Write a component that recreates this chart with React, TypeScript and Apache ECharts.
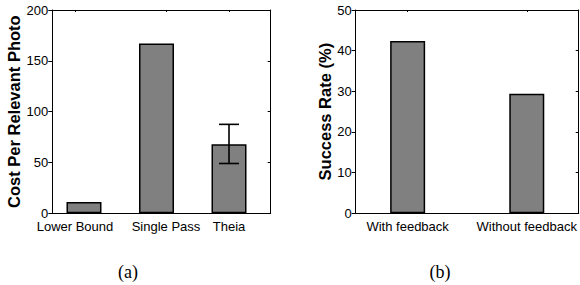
import React, { useEffect, useRef } from "react";
import * as echarts from "echarts";

// ---- data ----
const costLabels = ["Lower Bound", "Single Pass", "Theia"];
const costValues = [11, 167, 68];
const costErrLow = [null, null, 49];
const costErrHigh = [null, null, 87.5];
const costTicks = [0, 50, 100, 150, 200];

const successLabels = ["With feedback", "Without feedback"];
const successValues = [42.4, 29.4];
const successTicks = [0, 10, 20, 30, 40, 50];

const captions = ["(a)", "(b)"];

const SANS = "'Liberation Sans', Arial, Helvetica, sans-serif";
const SERIF = "'Liberation Serif', 'Times New Roman', serif";

export default function App() {
  const ref = useRef<HTMLDivElement>(null);
  useEffect(() => {
    if (!ref.current) return;
    const chart = echarts.init(ref.current, null, { renderer: "svg" });

    const aLabelPos = [0.876, 2.131, 3];
    const aMin = 0.563;
    const aMax = 3.575;
    const bLabelPos = [1, 2];
    const bMin = 0.564;
    const bMax = 2.436;

    const labelStyle = { color: "#000", fontFamily: SANS, fontSize: 13 };
    const lineStyle = { color: "#000", width: 1 };

    const bottomX = (min: number, max: number, pos: number[], labels: string[], gi: number) => ({
      type: "value",
      gridIndex: gi,
      position: "bottom",
      min,
      max,
      axisLine: { show: true, onZero: false, lineStyle },
      axisTick: { show: false },
      splitLine: { show: false },
      axisLabel: {
        ...labelStyle,
        lineHeight: 13,
        margin: 7,
        customValues: pos,
        hideOverlap: false,
        formatter: (v: number) => {
          const i = pos.findIndex((p) => Math.abs(p - v) < 1e-6);
          return i >= 0 ? labels[i] : "";
        },
      },
    });
    const topX = (min: number, max: number, pos: number[], gi: number) => ({
      type: "value",
      gridIndex: gi,
      position: "top",
      min,
      max,
      axisLine: { show: true, onZero: false, lineStyle },
      axisTick: { show: true, inside: true, length: 2, customValues: pos, lineStyle },
      axisLabel: { show: false },
      splitLine: { show: false },
    });
    const leftY = (max: number, interval: number, name: string, gi: number, gap: number) => ({
      type: "value",
      gridIndex: gi,
      position: "left",
      min: 0,
      max,
      interval,
      name,
      nameLocation: "middle",
      nameGap: gap,
      nameTextStyle: { color: "#000", fontFamily: SANS, fontSize: 16.5, fontWeight: "bold" },
      axisLine: { show: true, onZero: false, lineStyle },
      axisTick: { show: true, inside: false, length: 4, lineStyle },
      axisLabel: { ...labelStyle, lineHeight: 11, margin: 4 },
      splitLine: { show: false },
    });
    const rightY = (max: number, interval: number, gi: number) => ({
      type: "value",
      gridIndex: gi,
      position: "right",
      min: 0,
      max,
      interval,
      axisLine: { show: true, onZero: false, lineStyle },
      axisTick: { show: true, inside: true, length: 3, lineStyle },
      axisLabel: { show: false },
      splitLine: { show: false },
    });

    const barStyle = { color: "#808080", borderColor: "#000", borderWidth: 1.5 };

    chart.setOption({
      animation: false,
      grid: [
        { left: 52.3, top: 10, width: 218.4, height: 203.3 },
        { left: 355.7, top: 10, width: 224.6, height: 203.3 },
      ],
      xAxis: [
        bottomX(aMin, aMax, aLabelPos, costLabels, 0),
        topX(aMin, aMax, aLabelPos, 0),
        bottomX(bMin, bMax, bLabelPos, successLabels, 1),
        topX(bMin, bMax, bLabelPos, 1),
      ],
      yAxis: [
        leftY(costTicks[costTicks.length - 1], costTicks[1] - costTicks[0], "Cost Per Relevant Photo", 0, 26),
        rightY(costTicks[costTicks.length - 1], costTicks[1] - costTicks[0], 0),
        leftY(successTicks[successTicks.length - 1], successTicks[1] - successTicks[0], "Success Rate (%)", 1, 20),
        rightY(successTicks[successTicks.length - 1], successTicks[1] - successTicks[0], 1),
      ],
      series: [
        {
          type: "bar",
          xAxisIndex: 0,
          yAxisIndex: 0,
          barWidth: 35,
          z: 2,
          itemStyle: barStyle,
          data: costValues.map((v, i) => [i + 1, v]),
        },
        {
          type: "custom",
          xAxisIndex: 0,
          yAxisIndex: 0,
          z: 10,
          encode: { x: 0, y: [1, 2] },
          data: costErrLow
            .map((lo, i) => (lo == null ? null : [i + 1, lo, costErrHigh[i]]))
            .filter((d) => d != null),
          renderItem: (params: any, api: any) => {
            const x = api.value(0);
            const lo = api.coord([x, api.value(1)]);
            const hi = api.coord([x, api.value(2)]);
            const hw = 10;
            const st = { stroke: "#000", lineWidth: 1.6 };
            return {
              type: "group",
              children: [
                { type: "line", shape: { x1: lo[0], y1: lo[1], x2: hi[0], y2: hi[1] }, style: st },
                { type: "line", shape: { x1: hi[0] - hw, y1: hi[1], x2: hi[0] + hw, y2: hi[1] }, style: st },
                { type: "line", shape: { x1: lo[0] - hw, y1: lo[1], x2: lo[0] + hw, y2: lo[1] }, style: st },
              ],
            };
          },
        },
        {
          type: "bar",
          xAxisIndex: 2,
          yAxisIndex: 2,
          barWidth: 35,
          itemStyle: barStyle,
          data: successValues.map((v, i) => [i + 1, v]),
        },
      ],
      graphic: [
        {
          type: "text",
          x: 128,
          y: 272,
          style: { text: captions[0], fontFamily: SERIF, fontSize: 18, fill: "#000", align: "center", verticalAlign: "middle" },
        },
        {
          type: "text",
          x: 440,
          y: 272,
          style: { text: captions[1], fontFamily: SERIF, fontSize: 18, fill: "#000", align: "center", verticalAlign: "middle" },
        },
      ],
    });
    return () => chart.dispose();
  }, []);
  return (
    <div
      ref={ref}
      style={{ position: "absolute", left: 0, top: 0, width: 580, height: 285, background: "#fff" }}
    />
  );
}
